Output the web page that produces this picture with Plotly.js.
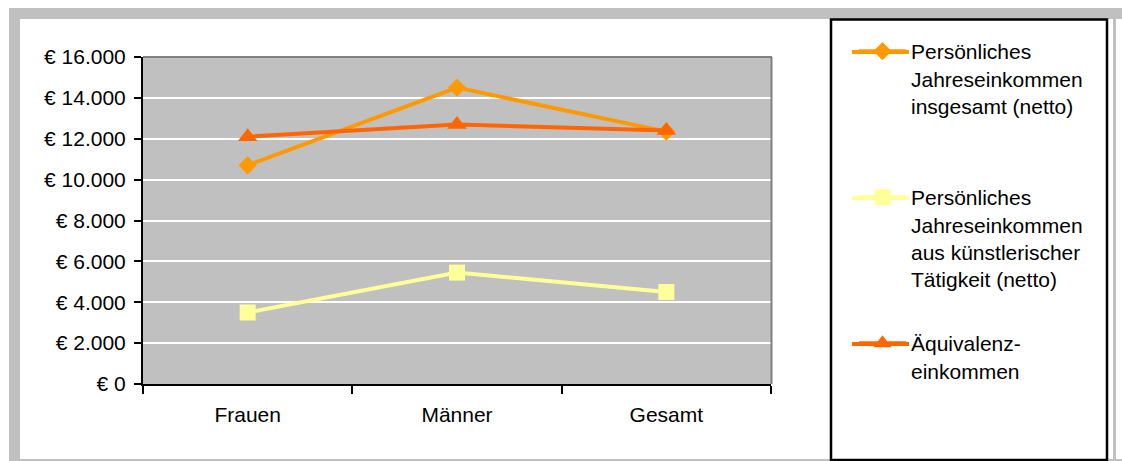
<!DOCTYPE html>
<html>
<head>
<meta charset="utf-8">
<script src="https://cdn.plot.ly/plotly-3.0.1.min.js"></script>
<style>html,body{margin:0;padding:0;background:#fff;}#chart{width:1122px;height:461px;}</style>
</head>
<body>
<div id="chart"></div>
<script>
const categories = ['Frauen', 'Männer', 'Gesamt'];
const einkommenGesamt = [10700, 14500, 12350];
const einkommenKunst = [3500, 5450, 4500];
const aequivalenz = [12100, 12700, 12400];
const seriesNames = [
  'Persönliches<br>Jahreseinkommen<br>insgesamt (netto)',
  'Persönliches<br>Jahreseinkommen<br>aus künstlerischer<br>Tätigkeit (netto)',
  'Äquivalenz-<br>einkommen'
];
const seriesColors = ['#FF9900', '#FFFF99', '#FF6600'];
const yTicks = [0, 2000, 4000, 6000, 8000, 10000, 12000, 14000, 16000];
const yTickText = yTicks.map(v => '€ ' + v.toString().replace(/\B(?=(\d{3})+(?!\d))/g, '.'));

// pixel helpers for decorations (plot area: x 143..771, y 57..384)
const L = 143, R = 771, T = 57, B = 384;
const px = v => (v - L) / (R - L);
const py = v => (B - v) / (B - T);

const font = {family: 'Liberation Sans, Arial, sans-serif', size: 21, color: '#000'};

const traces = [
  {x: categories, y: einkommenGesamt, name: seriesNames[0], type: 'scatter', mode: 'lines+markers',
   line: {color: seriesColors[0], width: 4}, marker: {symbol: 'diamond', size: 14, color: seriesColors[0]}, legend: 'legend'},
  {x: categories, y: einkommenKunst, name: seriesNames[1], type: 'scatter', mode: 'lines+markers',
   line: {color: seriesColors[1], width: 4}, marker: {symbol: 'square', size: 16, color: seriesColors[1]}, legend: 'legend2'},
  {x: categories, y: aequivalenz, name: seriesNames[2], type: 'scatter', mode: 'lines+markers',
   line: {color: seriesColors[2], width: 4}, marker: {symbol: 'triangle-up', size: 17, color: seriesColors[2]}, legend: 'legend3'}
];

const legendBase = {xanchor: 'left', yanchor: 'top', bgcolor: 'rgba(0,0,0,0)', borderwidth: 0,
  font: font, valign: 'top', itemwidth: 47, tracegroupgap: 0};

// legend symbol line rows (first text line centre)
const legendRows = [52, 198, 344];
const legendLineShapes = legendRows.map((yy, i) => ({
  type: 'line', xref: 'paper', yref: 'paper', x0: px(852), x1: px(909), y0: py(yy), y1: py(yy),
  line: {color: seriesColors[i], width: 4}, layer: 'above'
}));

const layout = {
  width: 1122, height: 461,
  margin: {l: L, r: 1122 - R, t: T, b: 461 - B, pad: 0},
  paper_bgcolor: '#FFFFFF',
  plot_bgcolor: '#C0C0C0',
  font: font,
  showlegend: true,
  xaxis: {
    type: 'category', range: [-0.5, 2.5], fixedrange: true,
    showline: true, linecolor: '#000', linewidth: 2,
    ticks: 'outside', tickson: 'boundaries', ticklen: 8, tickwidth: 2, tickcolor: '#000',
    showgrid: false, zeroline: false, tickfont: font, ticklabelstandoff: 11
  },
  yaxis: {
    range: [0, 16000], tickmode: 'array', tickvals: yTicks, ticktext: yTickText,
    showline: true, linecolor: '#000', linewidth: 2,
    ticks: 'outside', ticklen: 7, tickwidth: 2, tickcolor: '#000',
    showgrid: true, gridcolor: '#FFFFFF', gridwidth: 2, zeroline: false, tickfont: font,
    ticklabelstandoff: 4
  },
  legend: Object.assign({}, legendBase, {x: px(854), y: py(31)}),
  legend2: Object.assign({}, legendBase, {x: px(854), y: py(177)}),
  legend3: Object.assign({}, legendBase, {x: px(854), y: py(323)}),
  shapes: [
    // outer gray frame
    {type: 'rect', xref: 'paper', yref: 'paper', x0: px(14.5), x1: px(1135), y0: py(13.5), y1: py(464.5),
     line: {color: '#C0C0C0', width: 11}, fillcolor: 'rgba(0,0,0,0)', layer: 'below'},
    {type: 'line', xref: 'paper', yref: 'paper', x0: px(1114.5), x1: px(1114.5), y0: py(19), y1: py(461),
     line: {color: '#C0C0C0', width: 3}, layer: 'below'},
    // plot area border top/right
    {type: 'line', xref: 'paper', yref: 'paper', x0: 0, x1: px(772), y0: py(57), y1: py(57),
     line: {color: '#808080', width: 2}, layer: 'above'},
    {type: 'line', xref: 'paper', yref: 'paper', x0: px(771.5), x1: px(771.5), y0: py(57), y1: py(384),
     line: {color: '#808080', width: 2}, layer: 'above'},
    // legend box
    {type: 'rect', xref: 'paper', yref: 'paper', x0: px(831), x1: px(1107), y0: py(19.5), y1: py(460),
     line: {color: '#000000', width: 2.5}, fillcolor: '#FFFFFF', layer: 'below'}
  ].concat(legendLineShapes)
};

Plotly.newPlot('chart', traces, layout, {displayModeBar: false, staticPlot: true});
</script>
</body>
</html>
